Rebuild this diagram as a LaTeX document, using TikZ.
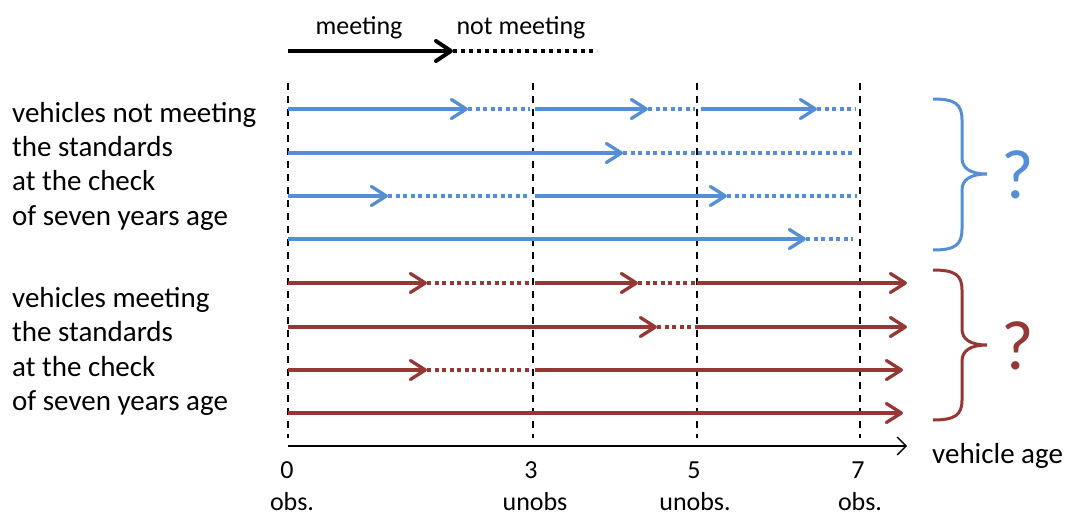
\documentclass[tikz,border=0pt]{standalone}
\usepackage{fontspec}
\setmainfont{Carlito}
\usetikzlibrary{arrows.meta}
\definecolor{okblue}{RGB}{85,142,213}
\definecolor{okred}{RGB}{149,55,53}

\begin{document}
\begin{tikzpicture}[x=1pt,y=-1pt,
  track/.style={line width=3.3pt},
  passed/.style={track,-{Straight Barb[length=15pt,width=19pt,round]}},
  failed/.style={track,dash pattern=on 4pt off 3.5pt},
  ageline/.style={line width=1.5pt,dash pattern=on 7pt off 6pt},
  rowlabel/.style={font=\fontsize{29}{34}\selectfont,anchor=base west,inner sep=0pt},
  smalllabel/.style={font=\fontsize{26}{30}\selectfont,anchor=base,inner sep=0pt},
  qmark/.style={font=\fontsize{70}{80}\selectfont,anchor=base,inner sep=0pt},
  bracestroke/.style={line width=3pt}]
\useasboundingbox (0,0) rectangle (1067,516);

% legend
\node[smalllabel] (lgmeet) at (359,35) {meeting};
\node[smalllabel] (lgnot) at (521,35) {not meeting};
\coordinate (lga) at (288,51);
\coordinate (lgb) at (453,51);
\coordinate (lgc) at (597,51);
\draw[line width=4pt,-{Straight Barb[length=15pt,width=20pt,round]}] (lga) -- (lgb);
\draw[line width=4pt,dash pattern=on 4pt off 4pt] (lgb) -- (lgc);

% inspection ages
\foreach \x/\n in {288/a0,533/a3,697/a5,860/a7}{
  \coordinate (\n top) at (\x,83);
  \coordinate (\n bot) at (\x,438);
  \draw[ageline] (\n top) -- (\n bot);
}

% vehicles not meeting the standards at age 7
\begin{scope}[color=okblue]
\draw[passed] (288,109) -- (468,109);
\draw[failed] (468,109) -- (530,109);
\draw[passed] (535,109) -- (648,109);
\draw[failed] (648,109) -- (695,109);
\draw[passed] (701,109) -- (817,109);
\draw[failed] (817,109) -- (855,109);

\draw[passed] (288,153) -- (623,153);
\draw[failed] (623,153) -- (853,153);

\draw[passed] (288,196) -- (388,196);
\draw[failed] (388,196) -- (529,196);
\draw[passed] (535,196) -- (727,196);
\draw[failed] (727,196) -- (857,196);

\draw[passed] (288,239) -- (806,239);
\draw[failed] (806,239) -- (853,239);

\draw[bracestroke] (933,99) .. controls (955,99) and (962,104) .. (962,120)
  -- (962,158) .. controls (962,168) and (970,174) .. (987,174)
  .. controls (970,174) and (962,180) .. (962,190)
  -- (962,229) .. controls (962,245) and (955,250) .. (933,250);
\node[qmark] (qblue) at (1018,198) {?};
\end{scope}

% vehicles meeting the standards at age 7
\begin{scope}[color=okred]
\draw[passed] (288,283) -- (427,283);
\draw[failed] (427,283) -- (532,283);
\draw[passed] (535,283) -- (638,283);
\draw[failed] (638,283) -- (695,283);
\draw[passed] (697,283) -- (907,283);

\draw[passed] (288,327) -- (657,327);
\draw[failed] (657,327) -- (697,327);
\draw[passed] (697,327) -- (907,327);

\draw[passed] (288,370) -- (427,370);
\draw[failed] (427,370) -- (531,370);
\draw[passed] (535,370) -- (903,370);

\draw[passed] (288,413) -- (903,413);

\draw[bracestroke] (933,270) .. controls (955,270) and (962,275) .. (962,290)
  -- (962,329) .. controls (962,339) and (970,345) .. (987,345)
  .. controls (970,345) and (962,351) .. (962,361)
  -- (962,400) .. controls (962,415) and (955,420) .. (933,420);
\node[qmark] (qred) at (1018,369) {?};
\end{scope}

% row labels
\node[rowlabel] (nm1) at (12,122) {vehicles not meeting};
\node[rowlabel] (nm2) at (12,156) {the standards};
\node[rowlabel] (nm3) at (12,190) {at the check};
\node[rowlabel] (nm4) at (12,225) {of seven years age};
\node[rowlabel] (m1) at (12,307) {vehicles meeting};
\node[rowlabel] (m2) at (12,341) {the standards};
\node[rowlabel] (m3) at (12,376) {at the check};
\node[rowlabel] (m4) at (12,410) {of seven years age};

% age axis
\coordinate (axstart) at (288,446);
\coordinate (axend) at (907,446);
\draw[line width=1.3pt,-{Straight Barb[length=9pt,width=18pt]}] (axstart) -- (axend);
\node[rowlabel] (agelabel) at (932,463) {vehicle age};

\node[smalllabel] (t0) at (287,478) {0};
\node[smalllabel] (t3) at (531,478) {3};
\node[smalllabel] (t5) at (694,478) {5};
\node[smalllabel] (t7) at (858,478) {7};
\node[smalllabel] (s0) at (292,510) {obs.};
\node[smalllabel] (s3) at (535,510) {unobs};
\node[smalllabel] (s5) at (695,510) {unobs.};
\node[smalllabel] (s7) at (860,510) {obs.};
\end{tikzpicture}
\end{document}
